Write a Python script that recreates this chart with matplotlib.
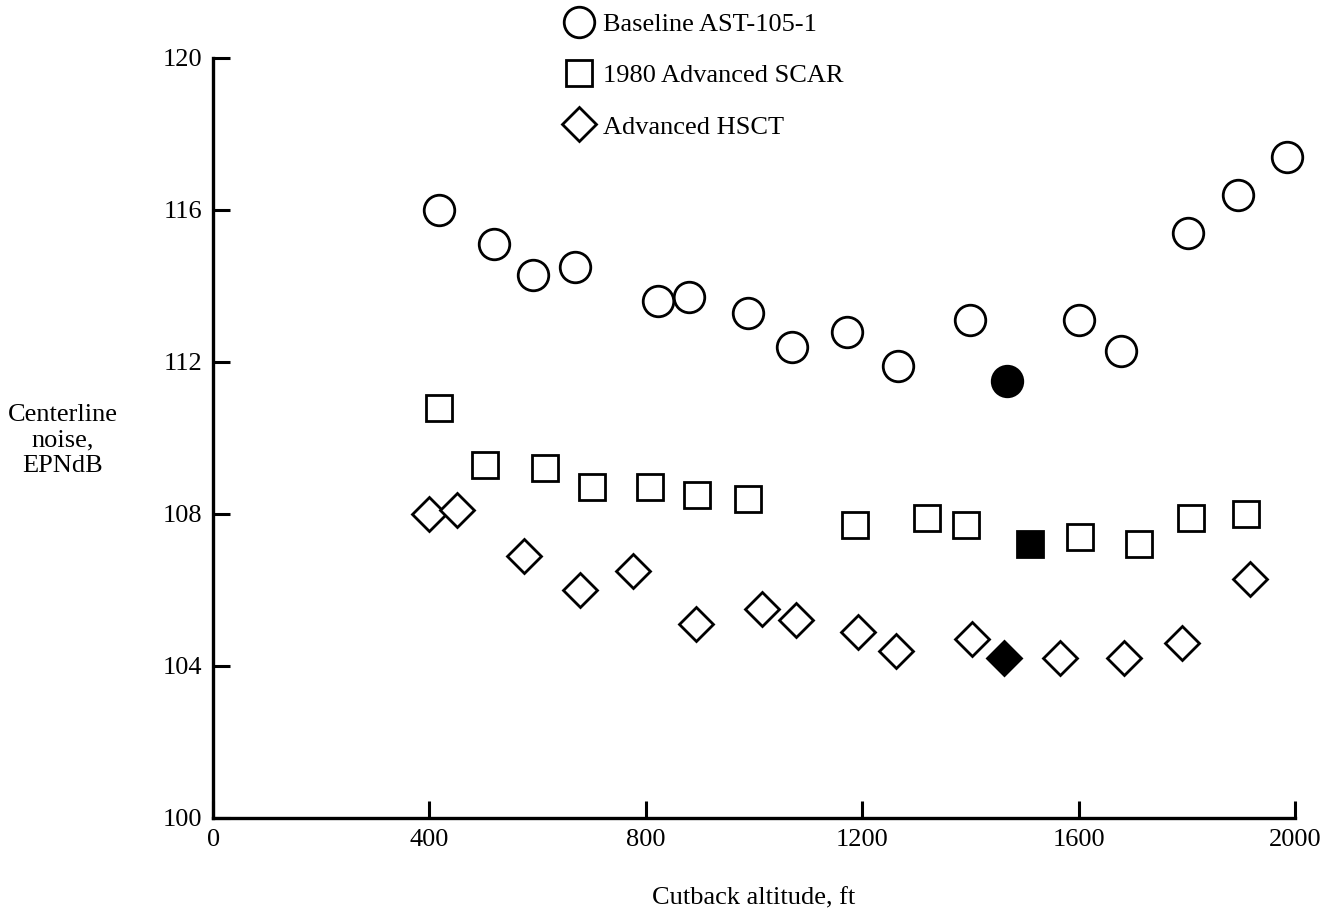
import matplotlib.pyplot as plt
from matplotlib.lines import Line2D

plt.rcParams['font.family'] = ['Liberation Serif', 'DejaVu Serif']

# Baseline AST-105-1 (circles)
base_x = [418, 519, 591, 669, 822, 880, 989, 1070, 1172, 1266, 1399, 1601, 1678, 1802, 1895, 1985]
base_y = [116.0, 115.1, 114.3, 114.5, 113.6, 113.7, 113.3, 112.4, 112.8, 111.9, 113.1, 113.1, 112.3, 115.4, 116.4, 117.4]
base_sel = (1468, 111.5)

# 1980 Advanced SCAR (squares)
scar_x = [418, 503, 614, 700, 808, 895, 989, 1187, 1320, 1392, 1603, 1712, 1808, 1909]
scar_y = [110.8, 109.3, 109.2, 108.7, 108.7, 108.5, 108.4, 107.7, 107.9, 107.7, 107.4, 107.2, 107.9, 108.0]
scar_sel = (1510, 107.2)

# Advanced HSCT (diamonds)
hsct_x = [399, 451, 575, 678, 776, 893, 1015, 1078, 1192, 1262, 1403, 1566, 1684, 1791, 1917]
hsct_y = [108.0, 108.1, 106.9, 106.0, 106.5, 105.1, 105.5, 105.2, 104.9, 104.4, 104.7, 104.2, 104.2, 104.6, 106.3]
hsct_sel = (1462, 104.2)

xticks = [0, 400, 800, 1200, 1600, 2000]
yticks = [100, 104, 108, 112, 116, 120]

fs = 19
mew = 2.0
fig = plt.figure(figsize=(13.35, 9.19), dpi=100)
ax = fig.add_axes([0.1596, 0.110, 0.8104, 0.827])

ax.plot(base_x, base_y, 'o', ms=22, mfc='white', mec='black', mew=mew, ls='none', clip_on=False)
ax.plot(*base_sel, 'o', ms=22, mfc='black', mec='black', mew=mew)
ax.plot(scar_x, scar_y, 's', ms=19, mfc='white', mec='black', mew=mew, ls='none')
ax.plot(*scar_sel, 's', ms=19, mfc='black', mec='black', mew=mew)
ax.plot(hsct_x, hsct_y, 'D', ms=17.5, mfc='white', mec='black', mew=mew, ls='none')
ax.plot(*hsct_sel, 'D', ms=17.5, mfc='black', mec='black', mew=mew)

ax.set_xlim(0, 2000)
ax.set_ylim(100, 120)
ax.set_xticks(xticks)
ax.set_yticks(yticks)
ax.tick_params(direction='in', length=12, width=2.2, labelsize=fs, pad=8)
for s in ['top', 'right']:
    ax.spines[s].set_visible(False)
for s in ['left', 'bottom']:
    ax.spines[s].set_linewidth(2.4)

ax.set_xlabel('Cutback altitude, ft', fontsize=fs, labelpad=26)
fig.text(0.047, 0.521, 'Centerline\nnoise,\nEPNdB', fontsize=fs, ha='center', va='center',
         linespacing=1.2)

handles = [
    Line2D([], [], marker='o', ls='none', ms=22, mfc='white', mec='black', mew=mew),
    Line2D([], [], marker='s', ls='none', ms=19, mfc='white', mec='black', mew=mew),
    Line2D([], [], marker='D', ls='none', ms=17.5, mfc='white', mec='black', mew=mew),
]
labels = ['Baseline AST-105-1', '1980 Advanced SCAR', 'Advanced HSCT']
fig.legend(handles, labels, loc='upper left', bbox_to_anchor=(0.405, 1.012), frameon=False,
           fontsize=fs, labelspacing=1.05, handletextpad=0.35, handlelength=1.1)

fig.savefig('out.png', dpi=100)
